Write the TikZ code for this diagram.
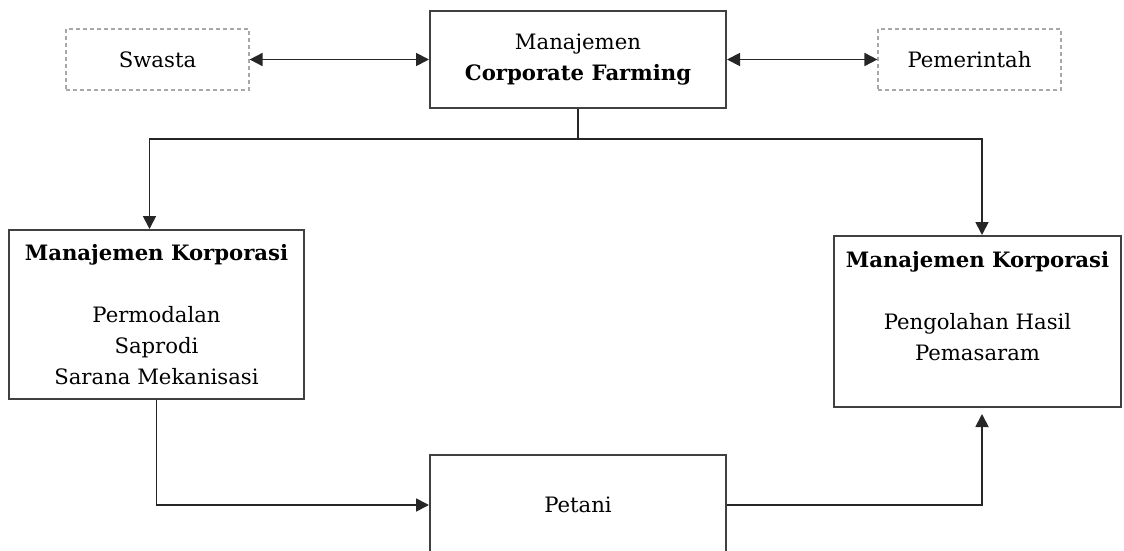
\documentclass[tikz,border=0pt]{standalone}
\usepackage{fontspec}
\setmainfont{DejaVu Serif}
\usetikzlibrary{arrows.meta}
\definecolor{FrameGray}{HTML}{404040}
\definecolor{DashGray}{HTML}{A8A8A8}

\begin{document}
\begin{tikzpicture}[
  x=0.5pt, y=-0.5pt,
  box/.style={draw=FrameGray, line width=1pt, fill=white, inner sep=0pt,
    align=center, font=\fontsize{10.6}{15.5}\selectfont},
  ghostbox/.style={draw=DashGray, line width=0.6pt, dash pattern=on 2pt off 1.5pt,
    minimum width=91.5pt, minimum height=30.5pt, font=\fontsize{10.6}{15.5}\selectfont},
  link/.style={line width=0.9pt, draw=black!85, -{Triangle[length=6.5pt,width=6.5pt]}},
  duallink/.style={link, {Triangle[length=6.5pt,width=6.5pt]}-{Triangle[length=6.5pt,width=6.5pt]}}
]
  \useasboundingbox (0,0) rectangle (1124,551);

  \node[box, minimum width=148pt, minimum height=48.5pt] (mgmt) at (578,59.5)
    {Manajemen\\\textbf{Corporate Farming}};
  \node[ghostbox] (swasta) at (157.5,59.5) {Swasta};
  \node[ghostbox] (pemerintah) at (969.5,59.5) {Pemerintah};

  \node[box, minimum width=147.5pt, minimum height=84.5pt] (kiri) at (156.5,314.5)
    {\textbf{Manajemen Korporasi}\\ \\Permodalan\\Saprodi\\Sarana Mekanisasi};
  \node[box, minimum width=143.5pt, minimum height=85.5pt] (kanan) at (977.5,321.5)
    {\textbf{Manajemen Korporasi}\\ \\Pengolahan Hasil\\Pemasaram\\\mbox{}};
  \node[box, minimum width=148pt, minimum height=50pt] (petani) at (578,505) {Petani};

  \draw[duallink] (swasta) -- (mgmt);
  \draw[duallink] (mgmt) -- (pemerintah);

  \draw[link] (mgmt.south) -- ++(0,30) -| ([xshift=-3.5pt]kiri.north);
  \draw[link] (mgmt.south) -- ++(0,30) -| ([xshift=2.25pt]kanan.north);

  \draw[link] (kiri.south) |- (petani.west);
  \draw[link, shorten >=3pt] (petani.east) -| ([xshift=2.25pt]kanan.south);
\end{tikzpicture}
\end{document}
